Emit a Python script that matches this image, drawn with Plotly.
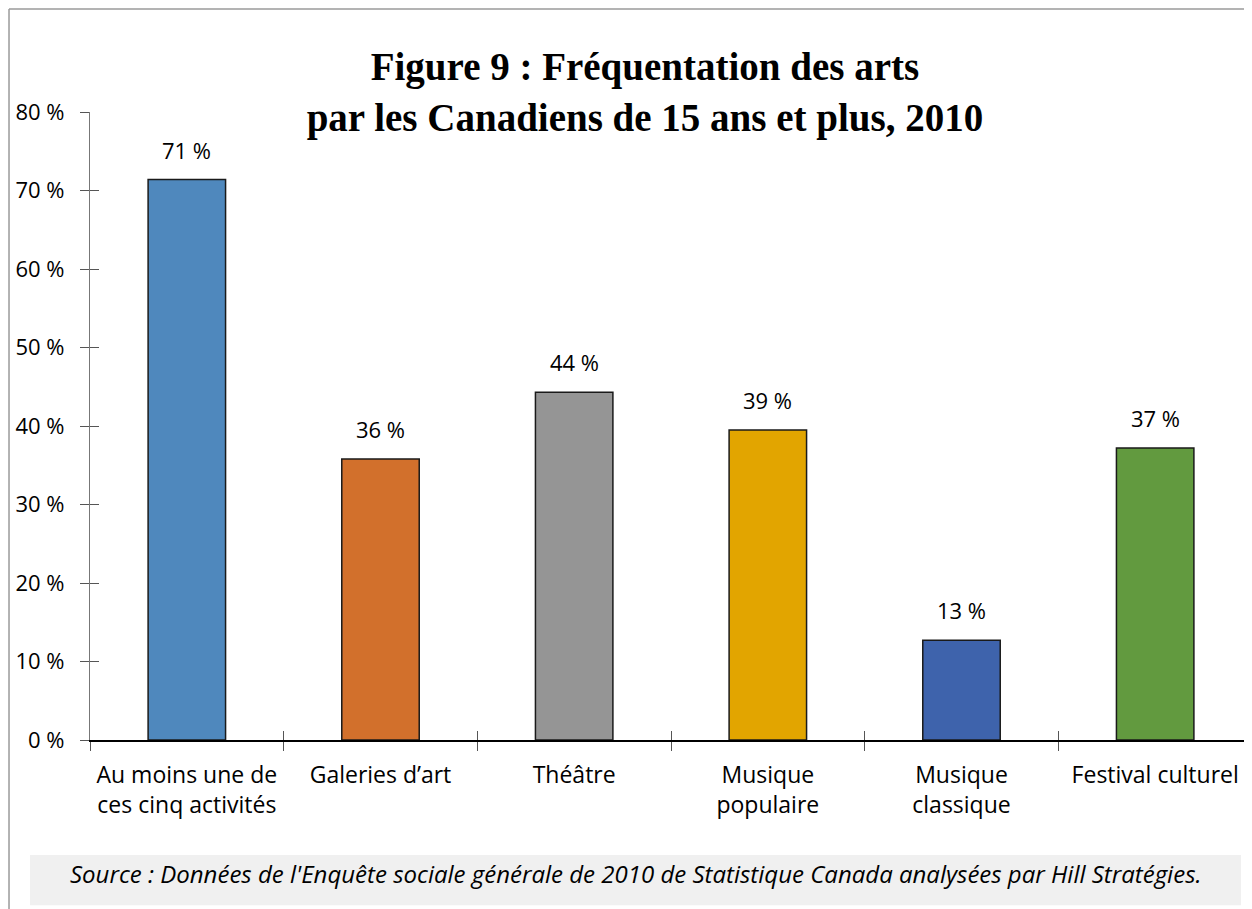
import plotly.graph_objects as go

categories = ["Au moins une de<br>ces cinq activités", "Galeries d\u2019art", "Théâtre",
              "Musique<br>populaire", "Musique<br>classique", "Festival culturel"]
values = [71.4, 35.8, 44.3, 39.5, 12.7, 37.2]
labels = ["71 %", "36 %", "44 %", "39 %", "13 %", "37 %"]
colors = ["#4F88BD", "#D2702C", "#959595", "#E2A500", "#3E63AC", "#629A3F"]
y_ticks = [0, 10, 20, 30, 40, 50, 60, 70, 80]

FONT = "Open Sans"

fig = go.Figure()

fig.add_trace(go.Bar(
    x=categories, y=values,
    marker=dict(color=colors, line=dict(color="#1a1a1a", width=1.5)),
    width=0.4, showlegend=False, hoverinfo="skip"
))

# data labels above each bar
for c, v, t in zip(categories, values, labels):
    fig.add_annotation(x=c, y=v, text=t, showarrow=False, yanchor="bottom",
                       yshift=13, font=dict(family=FONT, size=22, color="#000"))

fig.update_layout(
    width=1244, height=901,
    margin=dict(l=82, r=0, t=104, b=169),
    paper_bgcolor="white", plot_bgcolor="white",
    title=dict(text="<b>Figure 9 : Fréquentation des arts<br>par les Canadiens de 15 ans et plus, 2010</b>",
               x=0.512, xanchor="center", y=0.92, yanchor="top",
               font=dict(family="Liberation Serif", size=39, color="#000")),
    xaxis=dict(showline=True, linecolor="#000", linewidth=1.5,
               ticks="outside", ticklen=9, tickcolor="#555", tickson="boundaries",
               tickfont=dict(family=FONT, size=23, color="#000"),
               ticklabelstandoff=14, showgrid=False),
    yaxis=dict(range=[0, 80], tickvals=y_ticks, ticktext=[f"{v} %" for v in y_ticks],
               showline=True, linecolor="#777", linewidth=1.2,
               ticks="outside", ticklen=9, tickcolor="#555",
               tickfont=dict(family=FONT, size=22, color="#000"),
               ticklabelstandoff=11, showgrid=False, zeroline=False),
    # overlay axes to draw the inner half of the crossing tick marks
    xaxis2=dict(overlaying="x", matches="x", ticks="inside", ticklen=9, tickcolor="#555",
                tickson="boundaries", showticklabels=False, showgrid=False, showline=False),
    yaxis2=dict(overlaying="y", matches="y", tickvals=y_ticks, ticks="inside", ticklen=9,
                tickcolor="#555", showticklabels=False, showgrid=False, zeroline=False, showline=False),
)

# invisible trace to activate the overlay axes
fig.add_trace(go.Bar(x=categories, y=[0] * len(categories), xaxis="x2", yaxis="y2",
                     showlegend=False, hoverinfo="skip", marker=dict(opacity=0)))

# outer frame lines (top and left)
fig.add_shape(type="line", xref="paper", yref="paper", x0=-0.0697, x1=1.01, y0=1.164, y1=1.164,
              line=dict(color="#9a9a9a", width=1.5))
fig.add_shape(type="line", xref="paper", yref="paper", x0=-0.0697, x1=-0.0697, y0=1.164, y1=-0.27,
              line=dict(color="#9a9a9a", width=1.5))

# source box
fig.add_shape(type="rect", xref="paper", yref="paper", x0=-0.0516, x1=0.9905, y0=-0.183, y1=-0.263,
              fillcolor="#F0F0F0", line=dict(width=0), layer="below")
fig.add_annotation(xref="paper", yref="paper", x=0.47, y=-0.212, yanchor="middle", showarrow=False,
                   text="<i>Source : Données de l'Enquête sociale générale de 2010 de Statistique Canada analysées par Hill Stratégies.</i>",
                   font=dict(family=FONT, size=24, color="#000"))

fig.write_html("out.html")
